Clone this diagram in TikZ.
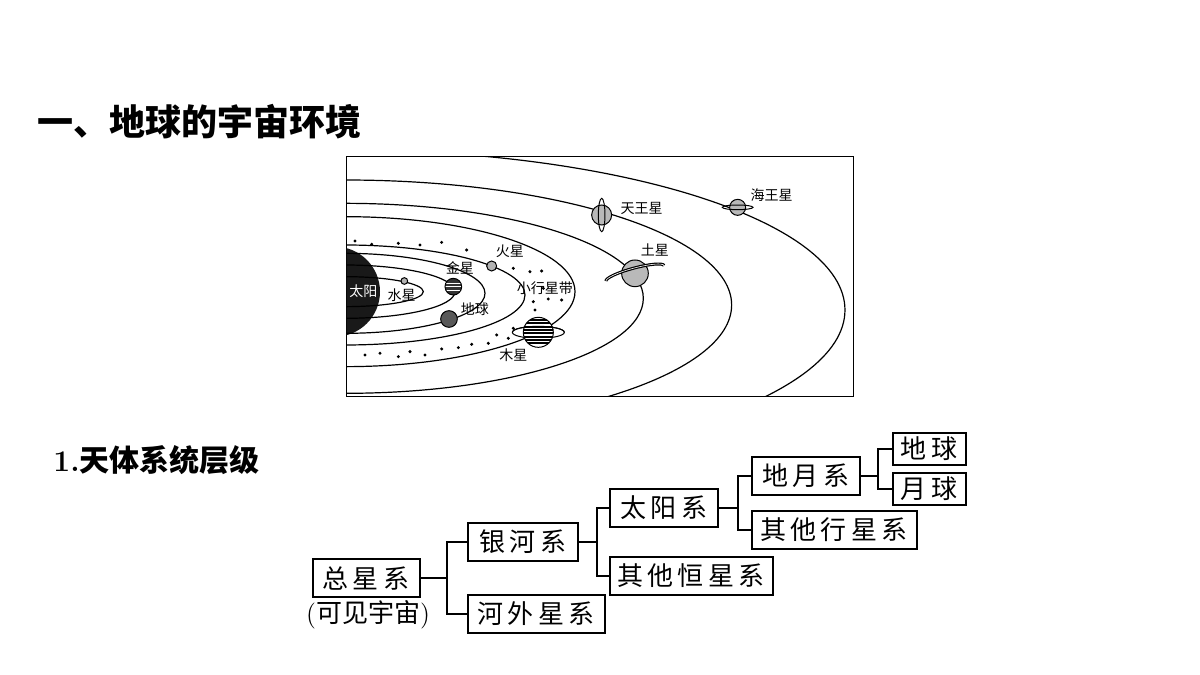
\documentclass[tikz,border=0pt]{standalone}
\usepackage{fontspec}
\newfontfamily\cjk{Noto Sans CJK SC}
\begin{document}
\begin{tikzpicture}[x=0.5pt,y=-0.5pt,
  bx/.style={draw,line width=1pt,inner sep=0pt,minimum height=19pt,font=\cjk\fontsize{13}{13}\selectfont},
  conn/.style={line width=1pt},
  lbl/.style={font=\cjk\fontsize{7}{7}\selectfont,inner sep=0pt},
  orb/.style={line width=0.6pt},
  pl/.style={draw,line width=0.5pt}]
\useasboundingbox (0,0) rectangle (1200,675);
% headings
\node[anchor=west,inner sep=0pt,font=\cjk\bfseries\fontsize{18}{18}\selectfont] (h1) at (37,122) {一、地球的宇宙环境};
\node[anchor=west,inner sep=0pt,font=\fontsize{15}{15}\selectfont] (h2) at (53,460) {\textbf{1.}{\cjk\bfseries 天体系统层级}};
% solar system
\begin{scope}[shift={(345,155)},x=1/6 pt,y=-1/6 pt]
  \draw[line width=0.6pt] (5,5) rectangle (1525,725);
  \begin{scope}
    \clip (5,5) rectangle (1525,725);
    \fill[black!90] (-30,410) circle (135);
    \foreach \r/\cy/\ry in {235/410/45,330/410/80,420/415/120,540/420/150,690/410/225,895/430/285,1160/450/375,1500/465/480}
      \draw[orb] (0,\cy) ellipse [x radius=\r, y radius=\ry];
    \foreach \px/\py in {30/258,80/268,160/265,225/270,290/262,365/285,505/340,555/350,590/348,565/440,610/432,650/435,570/465,505/520,455/540,490/550,430/565,380/568,340/578,290/582,240/600,195/590,160/605,105/595,60/600,595/400}
      \fill (\px,\py) circle (5);
  \end{scope}
  \node[lbl,text=white] (sun) at (55,410) {太阳};
  \node[lbl] (lmer) at (170,420) {水星};
  \draw[pl,fill=gray!60] (178,378) circle (10);
  \node[lbl] (lven) at (345,340) {金星};
  \begin{scope}
    \clip (325,395) circle (25);
    \fill[black!80] (325,395) circle (25);
    \foreach \yy in {385,395,405} \draw[white,line width=0.4pt] (290,\yy) -- (360,\yy);
  \end{scope}
  \draw[pl] (325,395) circle (25);
  \node[lbl] (lear) at (390,462) {地球};
  \draw[pl,fill=black!65] (312,492) circle (25);
  \node[lbl] (lmar) at (495,290) {火星};
  \draw[pl,fill=gray!60] (440,333) circle (15);
  \node[lbl] (last) at (600,400) {小行星带};
  % Jupiter
  \draw[line width=0.5pt,fill=white] (580,532) ellipse [x radius=78, y radius=18];
  \begin{scope}
    \clip (580,532) circle (45);
    \fill[white] (580,532) circle (45);
    \foreach \yy in {495,505,515,525,535,545,555,565} \draw[black,line width=1.1pt] (530,\yy) -- (630,\yy);
  \end{scope}
  \draw[pl] (580,532) circle (45);
  \draw[line width=0.5pt] (502,532) arc[start angle=180,end angle=360,x radius=78,y radius=18];
  \node[lbl] (ljup) at (505,600) {木星};
  % Saturn
  \draw[pl,fill=gray!55] (870,355) circle (40);
  \draw[line width=0.6pt,rotate around={15:(870,355)},double,double distance=0.3pt] (780,355) arc[start angle=180,end angle=360,x radius=90,y radius=16];
  \node[lbl] (lsat) at (930,285) {土星};
  % Uranus
  \draw[pl,fill=gray!55] (770,180) circle (30);
  \draw[line width=0.5pt] (770,180) ellipse [x radius=10, y radius=50];
  \node[lbl] (lura) at (890,160) {天王星};
  % Neptune
  \draw[pl,fill=gray!55] (1178,157) circle (24);
  \draw[line width=0.5pt] (1178,157) ellipse [x radius=46, y radius=7];
  \node[lbl] (lnep) at (1280,120) {海王星};
\end{scope}
% tree
\node[bx,minimum width=53.5pt] (zx) at (366,578) {总\,星\,系};
\node[inner sep=0pt,font=\fontsize{13}{13}\selectfont] (kj) at (368,615) {({\cjk 可见宇宙})};
\node[bx,minimum width=55pt] (yh) at (523,542) {银\,河\,系};
\node[bx,minimum width=68.5pt] (hw) at (536,614) {河\,外\,星\,系};
\node[bx,minimum width=54pt] (ty) at (664,508) {太\,阳\,系};
\node[bx,minimum width=81.5pt] (qh) at (691,576) {其\,他\,恒\,星\,系};
\node[bx,minimum width=54pt] (dy) at (806,476) {地\,月\,系};
\node[bx,minimum width=82.5pt] (qx) at (834,530) {其\,他\,行\,星\,系};
\node[bx,minimum width=36.5pt,minimum height=16pt] (dq) at (929,449) {地\,球};
\node[bx,minimum width=36.5pt,minimum height=16pt] (yq) at (929,489) {月\,球};
\coordinate (j1) at (447,578);
\draw[conn] (zx.east) -- (j1);
\draw[conn] (yh.west) -| (j1) |- (hw.west);
\coordinate (j2) at (597,542);
\draw[conn] (yh.east) -- (j2);
\draw[conn] (ty.west) -| (j2) |- (qh.west);
\coordinate (j3) at (738,508);
\draw[conn] (ty.east) -- (j3);
\draw[conn] (dy.west) -| (j3) |- (qx.west);
\coordinate (j4) at (878,476);
\draw[conn] (dy.east) -- (j4);
\draw[conn] (dq.west) -| (j4) |- (yq.west);
\end{tikzpicture}
\end{document}
